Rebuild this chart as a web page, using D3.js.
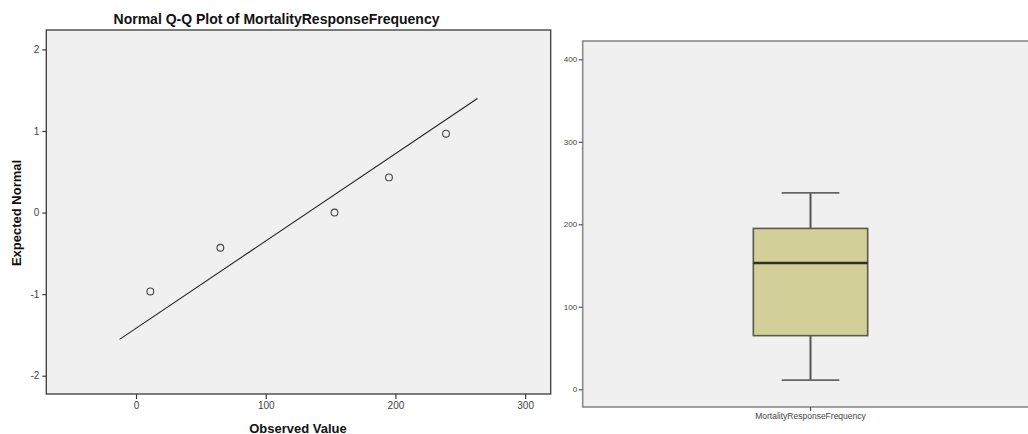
<!DOCTYPE html>
<html>
<head>
<meta charset="utf-8">
<script src="https://cdn.jsdelivr.net/npm/d3@7"></script>
<style>
  html, body { margin: 0; padding: 0; background: #fff; overflow: hidden; }
  svg { display: block; }
</style>
</head>
<body>
<svg id="chart" width="1028" height="434"></svg>
<script>
// ---------- data ----------
const qqTitle = "Normal Q-Q Plot of MortalityResponseFrequency";
const qqObserved = [11, 65, 153, 195, 239];
const qqExpected = [-0.967, -0.431, 0, 0.431, 0.967];
const qqLineX = [-12.7, 263.2];
const qqLineY = [-1.554, 1.399];
const qqXTicks = [0, 100, 200, 300];
const qqYTicks = [-2, -1, 0, 1, 2];
const qqXLabel = "Observed Value";
const qqYLabel = "Expected Normal";

const boxCategory = ["MortalityResponseFrequency"];
const boxStatNames = ["min", "q1", "median", "q3", "max"];
const boxStatValues = [11, 65, 153, 195, 238];
const boxYTicks = [0, 100, 200, 300, 400];

// ---------- drawing ----------
const svg = d3.select("#chart");
const fmt = d => String(d);

// Left panel: Q-Q plot
const L = { left: 46.3, right: 550.7, top: 30, bottom: 394 };
const x = d3.scaleLinear().domain([-69.2, 319.7]).range([L.left, L.right]);
const y = d3.scaleLinear().domain([-2.224, 2.238]).range([L.bottom, L.top]);

svg.append("rect")
  .attr("x", L.left).attr("y", L.top)
  .attr("width", L.right - L.left).attr("height", L.bottom - L.top)
  .attr("fill", "#f0f0f0").attr("stroke", "#3a3a3a").attr("stroke-width", 1.3);

const tickFont = "'Liberation Sans Narrow', 'Arial Narrow', 'Liberation Sans', Arial, sans-serif";

const yAx = svg.append("g").attr("transform", `translate(${L.left},0)`)
  .call(d3.axisLeft(y).tickValues(qqYTicks).tickSize(4).tickPadding(3).tickFormat(fmt));
yAx.select(".domain").remove();
yAx.selectAll("line").attr("stroke", "#3a3a3a").attr("stroke-width", 1.2);
yAx.selectAll("text").attr("font-family", tickFont).attr("font-size", 10).attr("fill", "#444");

const xAx = svg.append("g").attr("transform", `translate(0,${L.bottom})`)
  .call(d3.axisBottom(x).tickValues(qqXTicks).tickSize(5).tickPadding(3).tickFormat(fmt));
xAx.select(".domain").remove();
xAx.selectAll("line").attr("stroke", "#3a3a3a").attr("stroke-width", 1.2);
xAx.selectAll("text").attr("font-family", tickFont).attr("font-size", 10).attr("fill", "#444");

// fit line
svg.append("line")
  .attr("x1", x(qqLineX[0])).attr("y1", y(qqLineY[0]))
  .attr("x2", x(qqLineX[1])).attr("y2", y(qqLineY[1]))
  .attr("stroke", "#222").attr("stroke-width", 1.1);

// points
svg.append("g").selectAll("circle")
  .data(qqObserved.map((v, i) => [v, qqExpected[i]]))
  .join("circle")
  .attr("cx", d => x(d[0])).attr("cy", d => y(d[1]))
  .attr("r", 3.4)
  .attr("fill", "none").attr("stroke", "#444").attr("stroke-width", 1.1);

// titles
svg.append("text")
  .attr("x", 276.5).attr("y", 24)
  .attr("text-anchor", "middle")
  .attr("font-family", "'Liberation Sans', Arial, sans-serif")
  .attr("font-weight", "bold").attr("font-size", 14).attr("fill", "#111")
  .text(qqTitle);

svg.append("text")
  .attr("x", 298).attr("y", 432.5)
  .attr("text-anchor", "middle")
  .attr("font-family", "'Liberation Sans', Arial, sans-serif")
  .attr("font-weight", "bold").attr("font-size", 13).attr("fill", "#111")
  .text(qqXLabel);

svg.append("text")
  .attr("transform", "translate(20.5,213) rotate(-90)")
  .attr("text-anchor", "middle")
  .attr("font-family", "'Liberation Sans', Arial, sans-serif")
  .attr("font-weight", "bold").attr("font-size", 13).attr("fill", "#111")
  .text(qqYLabel);

// Right panel: box plot
const R = { left: 582.7, right: 1038.3, top: 41, bottom: 407 };
const bx = d3.scaleBand().domain(boxCategory).range([R.left, R.right]);
const by = d3.scaleLinear().domain([-21.5, 422.2]).range([R.bottom, R.top]);

svg.append("rect")
  .attr("x", R.left).attr("y", R.top)
  .attr("width", R.right - R.left).attr("height", R.bottom - R.top)
  .attr("fill", "#f0f0f0").attr("stroke", "#8a8a8a").attr("stroke-width", 1.6);

const byAx = svg.append("g").attr("transform", `translate(${R.left},0)`)
  .call(d3.axisLeft(by).tickValues(boxYTicks).tickSize(4).tickPadding(1.5).tickFormat(fmt));
byAx.select(".domain").remove();
byAx.selectAll("line").attr("stroke", "#555").attr("stroke-width", 1.2);
byAx.selectAll("text").attr("font-family", "'Liberation Sans', Arial, sans-serif").attr("font-size", 8).attr("fill", "#444");

const bxAx = svg.append("g").attr("transform", `translate(0,${R.bottom})`)
  .call(d3.axisBottom(bx).tickSize(4).tickPadding(2));
bxAx.select(".domain").remove();
bxAx.selectAll("line").attr("stroke", "#555").attr("stroke-width", 1.2);
bxAx.selectAll("text").attr("font-family", "'Liberation Sans', Arial, sans-serif").attr("font-size", 8.5).attr("fill", "#444");

const stat = {};
boxStatNames.forEach((n, i) => stat[n] = boxStatValues[i]);
const cx = bx(boxCategory[0]) + bx.bandwidth() / 2;
const boxW = bx.bandwidth() * 0.251;
const capW = bx.bandwidth() * 0.1265;

const bg = svg.append("g");
// whiskers
bg.append("line").attr("x1", cx).attr("x2", cx).attr("y1", by(stat.max)).attr("y2", by(stat.q3))
  .attr("stroke", "#555").attr("stroke-width", 2);
bg.append("line").attr("x1", cx).attr("x2", cx).attr("y1", by(stat.q1)).attr("y2", by(stat.min))
  .attr("stroke", "#555").attr("stroke-width", 2);
bg.append("line").attr("x1", cx - capW / 2).attr("x2", cx + capW / 2).attr("y1", by(stat.max)).attr("y2", by(stat.max))
  .attr("stroke", "#666").attr("stroke-width", 1.8);
bg.append("line").attr("x1", cx - capW / 2).attr("x2", cx + capW / 2).attr("y1", by(stat.min)).attr("y2", by(stat.min))
  .attr("stroke", "#666").attr("stroke-width", 1.8);
// box
bg.append("rect")
  .attr("x", cx - boxW / 2).attr("y", by(stat.q3))
  .attr("width", boxW).attr("height", by(stat.q1) - by(stat.q3))
  .attr("fill", "#d3cf98").attr("stroke", "#5a5a4a").attr("stroke-width", 1.6);
// median
bg.append("line").attr("x1", cx - boxW / 2).attr("x2", cx + boxW / 2).attr("y1", by(stat.median)).attr("y2", by(stat.median))
  .attr("stroke", "#2f2f22").attr("stroke-width", 2.6);
</script>
</body>
</html>
